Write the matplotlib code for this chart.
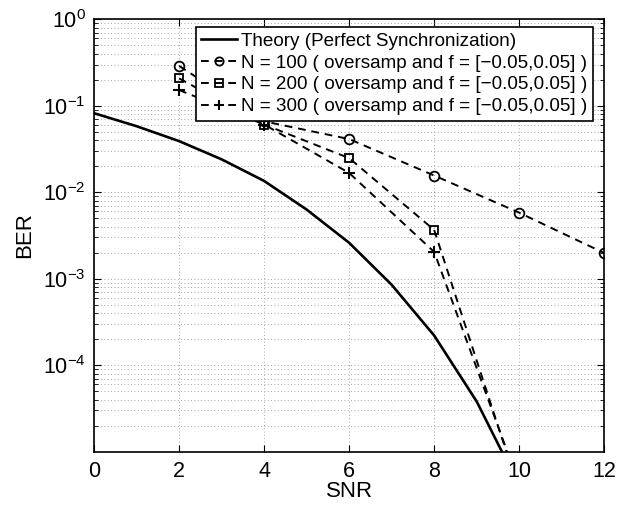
import matplotlib
matplotlib.use("Agg")
import matplotlib.pyplot as plt
from matplotlib.ticker import LogLocator, NullFormatter, FixedLocator

plt.rcParams['font.family'] = ['Liberation Sans', 'DejaVu Sans']
plt.rcParams['mathtext.fontset'] = 'custom'
plt.rcParams['mathtext.rm'] = 'Liberation Sans'
plt.rcParams['mathtext.it'] = 'Liberation Sans:italic'
plt.rcParams['mathtext.default'] = 'regular'

# values
snr_theory = [0, 1, 2, 3, 4, 5, 6, 7, 8, 9, 10]
ber_theory = [0.082, 0.058, 0.039, 0.024, 0.0135, 0.0063, 0.0026, 8.5e-4, 2.2e-4, 3.8e-5, 4.0e-6]

snr_sim = [2, 4, 6, 8, 10, 12]
ber_n100 = [0.289, 0.066, 0.0412, 0.0156, 0.0058, 0.00198]
ber_n200 = [0.207, 0.0607, 0.0248, 0.00366, 3.5e-6]
ber_n300 = [0.152, 0.0607, 0.0167, 0.00204, 4.2e-6]

labels = ["Theory (Perfect Synchronization)",
          "N = 100 ( oversamp and f = [\u22120.05,0.05] )",
          "N = 200 ( oversamp and f = [\u22120.05,0.05] )",
          "N = 300 ( oversamp and f = [\u22120.05,0.05] )"]

fig = plt.figure(figsize=(6.36, 5.08), dpi=100)
ax = fig.add_axes([0.148, 0.111, 0.802, 0.851])

dash = (0, (4, 3))
ax.semilogy(snr_theory, ber_theory, color='black', lw=1.9, label=labels[0])
ax.semilogy(snr_sim, ber_n100, color='black', lw=1.4, linestyle=dash, marker='o',
            mfc='none', ms=7, mew=1.3, label=labels[1])
ax.semilogy(snr_sim[:5], ber_n200, color='black', lw=1.4, linestyle=dash, marker='s',
            mfc='none', ms=6, mew=1.3, label=labels[2])
ax.semilogy(snr_sim[:5], ber_n300, color='black', lw=1.4, linestyle=dash, marker='+',
            ms=8, mew=1.5, label=labels[3])

ax.set_xlim(0, 12)
ax.set_ylim(1e-5, 1)
ax.xaxis.set_major_locator(FixedLocator([0, 2, 4, 6, 8, 10, 12]))
ax.yaxis.set_major_locator(FixedLocator([1e-4, 1e-3, 1e-2, 1e-1, 1e0]))
ax.yaxis.set_minor_locator(LogLocator(base=10, subs=range(2, 10), numticks=20))
ax.yaxis.set_minor_formatter(NullFormatter())
ax.set_yticklabels([r'$10^{-4}$', r'$10^{-3}$', r'$10^{-2}$', r'$10^{-1}$', r'$10^{0}$'])

ax.tick_params(which='both', direction='in', top=True, right=True, labelsize=15.5)
ax.tick_params(which='major', length=5, width=0.8)
ax.tick_params(which='minor', length=3, width=0.6)
ax.tick_params(axis='x', pad=7)
ax.tick_params(axis='y', pad=6)

ax.grid(True, which='major', axis='both', linestyle=(0, (1, 3)), color='0.55', lw=0.6)
ax.grid(True, which='minor', axis='y', linestyle=(0, (1, 3)), color='0.55', lw=0.6)
for s in ax.spines.values():
    s.set_linewidth(1.2)

ax.set_xlabel("SNR", fontsize=16, labelpad=-1)
ax.set_ylabel("BER", fontsize=16, labelpad=6)

leg = ax.legend(loc='upper right', bbox_to_anchor=(0.978, 0.982), borderaxespad=0,
                fontsize=13.6, fancybox=False, framealpha=1, edgecolor='black',
                handlelength=1.9, handletextpad=0.2, borderpad=0.3, labelspacing=0.24,
                markerscale=0.85)
leg.get_frame().set_linewidth(1.2)

fig.savefig("out.png", dpi=100)
